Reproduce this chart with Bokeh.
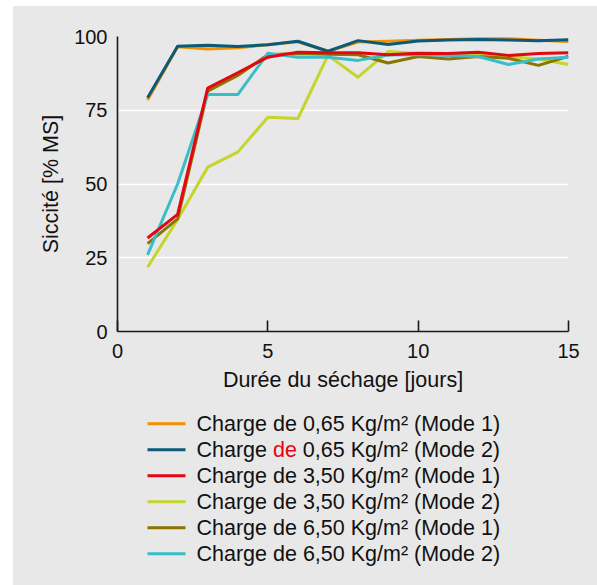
from bokeh.plotting import figure
from bokeh.models import Range1d, FixedTicker
from bokeh.layouts import column
from bokeh.core.properties import value
from bokeh.embed import file_html
from bokeh.resources import INLINE

# ---- data ----
days = list(range(1, 16))
charge_065_mode1 = [78.5, 96.5, 95.8, 96.2, 97.2, 98.2, 95.0, 98.1, 98.4, 98.7, 99.0, 99.2, 99.2, 98.7, 98.3]
charge_065_mode2 = [79.2, 96.7, 97.0, 96.6, 97.2, 98.4, 95.0, 98.6, 97.3, 98.5, 98.8, 99.0, 98.8, 98.6, 98.9]
charge_350_mode1 = [31.7, 39.7, 82.5, 87.7, 93.0, 94.7, 94.5, 94.5, 93.8, 94.3, 94.2, 94.7, 93.6, 94.2, 94.5]
charge_350_mode2 = [21.8, 38.0, 55.7, 60.8, 72.6, 72.2, 93.6, 86.2, 94.9, 94.2, 94.0, 94.0, 93.2, 92.4, 90.5]
charge_650_mode1 = [29.8, 38.2, 81.5, 86.8, 93.8, 94.2, 94.0, 93.8, 91.0, 93.2, 92.4, 93.2, 92.6, 90.2, 93.3]
charge_650_mode2 = [26.0, 50.0, 80.3, 80.3, 94.3, 93.0, 93.0, 91.9, 93.7, 93.9, 93.6, 93.2, 90.5, 92.4, 93.0]

series = [charge_065_mode1, charge_065_mode2, charge_350_mode1,
          charge_350_mode2, charge_650_mode1, charge_650_mode2]
labels = [
    "Charge de 0,65 Kg/m\u00b2 (Mode 1)",
    "Charge de 0,65 Kg/m\u00b2 (Mode 2)",
    "Charge de 3,50 Kg/m\u00b2 (Mode 1)",
    "Charge de 3,50 Kg/m\u00b2 (Mode 2)",
    "Charge de 6,50 Kg/m\u00b2 (Mode 1)",
    "Charge de 6,50 Kg/m\u00b2 (Mode 2)",
]
colors = ["#f39200", "#0b5a78", "#e30613", "#c5d52b", "#8b7400", "#3bbcc9"]
highlighted_entry = 1          # its word "de" is shown in red
x_ticks = [0, 5, 10, 15]
y_ticks = [0, 25, 50, 75, 100]
x_title = "Durée du séchage [jours]"
y_title = "Siccité [% MS]"

# ---- style ----
BG = "#e8e8e8"
FONT = "Liberation Sans"
TXT = "#111111"
RED = "#e30613"
FS = 21.5
draw_order = [0, 1, 3, 4, 5, 2]

W = 584
BL, BR = 104, 29               # borders left / right (frames are aligned in the column)
H_MAIN = 399
p = figure(width=W, height=H_MAIN,
           x_range=Range1d(0, 15), y_range=Range1d(0, 100),
           output_backend="svg", toolbar_location=None,
           min_border_left=BL, min_border_right=BR,
           min_border_top=30, min_border_bottom=H_MAIN - 30 - 295,
           background_fill_color=BG, border_fill_color=BG,
           outline_line_color=None)

for i in draw_order:
    p.line(days, series[i], line_color=colors[i], line_width=3, line_join="round")

p.xaxis.ticker = FixedTicker(ticks=x_ticks)
p.yaxis.ticker = FixedTicker(ticks=y_ticks)
p.xaxis.major_tick_in = 11
p.xaxis.major_tick_out = 0
p.yaxis.major_tick_in = 0
p.yaxis.major_tick_out = 0
p.axis.minor_tick_line_color = None
p.axis.axis_line_color = "#1a1a1a"
p.axis.axis_line_width = 1.6
p.axis.major_tick_line_color = "#1a1a1a"
p.axis.major_tick_line_width = 1.6
p.axis.major_label_text_font = FONT
p.axis.major_label_text_font_size = "20px"
p.axis.major_label_text_color = TXT
p.xaxis.major_label_standoff = 12
p.yaxis.major_label_standoff = 10
p.xaxis.axis_label = x_title
p.yaxis.axis_label = y_title
p.axis.axis_label_text_font = FONT
p.axis.axis_label_text_font_size = f"{FS}px"
p.axis.axis_label_text_font_style = "normal"
p.axis.axis_label_text_color = TXT
p.xaxis.axis_label_standoff = 7
p.yaxis.axis_label_standoff = 8

p.xgrid.ticker = FixedTicker(ticks=[15])
p.xgrid.grid_line_color = "white"
p.xgrid.grid_line_width = 2
p.ygrid.ticker = FixedTicker(ticks=[25, 50, 75, 100])
p.ygrid.grid_line_color = "white"
p.ygrid.grid_line_width = 1.5

# ---- legend panel: pixel coordinates from the frame's left edge, y downward ----
LH = 585 - 6 - H_MAIN
FW = W - BL - BR
leg = figure(width=W, height=LH, x_range=Range1d(0, FW), y_range=Range1d(LH, 0),
             x_axis_type=None, y_axis_type=None,
             output_backend="svg", toolbar_location=None,
             min_border_left=BL, min_border_right=BR,
             min_border_top=0, min_border_bottom=0,
             background_fill_color=BG, border_fill_color=BG,
             outline_line_color=None)
leg.grid.visible = False

n = len(labels)
row_y = [18.3 + 26 * i for i in range(n)]
leg.segment(x0=[30] * n, y0=row_y, x1=[68] * n, y1=row_y,
            line_color=colors, line_width=3)

TX = 79
w_charge_sp = 3.557 * FS           # Arial-metric width of "Charge "
w_de_sp = (1.112 + 0.278) * FS     # width of "de "
for i, lab in enumerate(labels):
    if i == highlighted_entry:
        a, b, c = lab.split(" ", 2)
        parts = [(TX, a, TXT), (TX + w_charge_sp, b, RED),
                 (TX + w_charge_sp + w_de_sp, c, TXT)]
    else:
        parts = [(TX, lab, TXT)]
    for x, t, col in parts:
        leg.text(x=[x], y=[row_y[i]], text=[t], text_color=col,
                 text_font=value(FONT), text_font_size=f"{FS}px",
                 text_align="left", text_baseline="middle")

layout = column(p, leg, spacing=0,
                styles={"margin-left": "13px", "margin-top": "6px",
                        "background-color": BG})
open("out.html", "w").write(file_html(layout, INLINE))
